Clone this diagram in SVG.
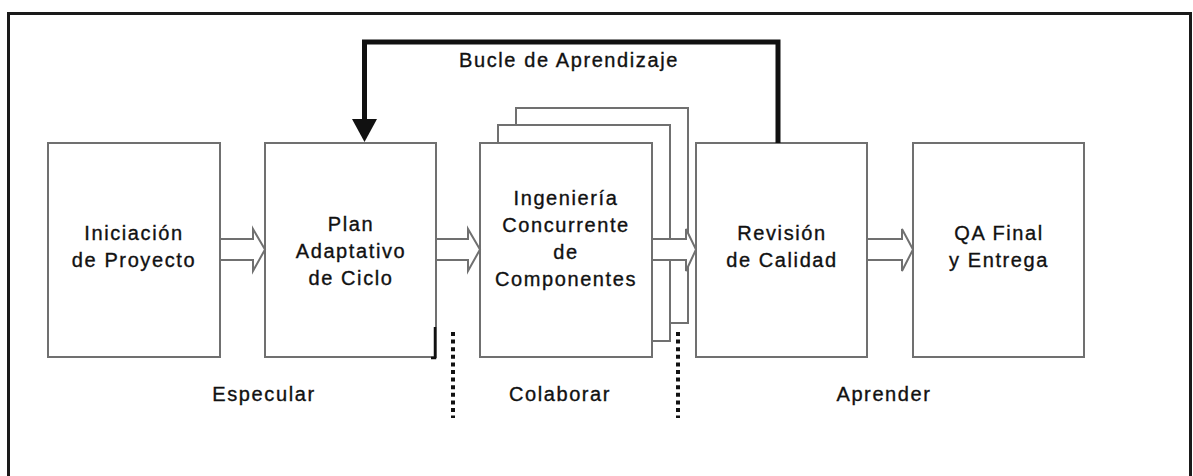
<svg xmlns="http://www.w3.org/2000/svg" width="1193" height="476" viewBox="0 0 1193 476">
<style>
.frame{fill:none;stroke:#1a1a1a;stroke-width:3}
.box{fill:#fff;stroke:#707070;stroke-width:2}
.t{font-family:"Liberation Sans",Arial,sans-serif;font-size:20px;letter-spacing:1.6px;fill:#111;stroke:#111;stroke-width:0.35px;text-anchor:middle}
.harrow{fill:#fff;stroke:#707070;stroke-width:2;stroke-linejoin:miter}
.fb{fill:none;stroke:#111;stroke-width:5}
.dots{stroke:#111;stroke-width:4;stroke-dasharray:4 3.6}
</style>
<rect width="1193" height="476" fill="#fff"/>
<path class="frame" d="M8.5 480 V13.5 H1190.5 V480"/>

<g id="n1">
<rect class="box" x="48" y="143" width="172" height="214"/>
<text class="t" x="134" y="240">Iniciación</text>
<text class="t" x="134" y="267">de Proyecto</text>
</g>

<g id="n2">
<rect class="box" x="265" y="143" width="171" height="214"/>
<path d="M435 327 V358 H431" fill="none" stroke="#111" stroke-width="2.5"/>
<text class="t" x="351" y="231">Plan</text>
<text class="t" x="351" y="258">Adaptativo</text>
<text class="t" x="351" y="285">de Ciclo</text>
</g>

<g id="n3">
<rect class="box" x="516" y="108" width="172" height="215"/>
<rect class="box" x="498" y="125" width="172" height="216"/>
<rect class="box" x="480" y="143" width="172" height="214"/>
<text class="t" x="566" y="205">Ingeniería</text>
<text class="t" x="566" y="232">Concurrente</text>
<text class="t" x="566" y="259">de</text>
<text class="t" x="566" y="286">Componentes</text>
</g>

<g id="n4">
<rect class="box" x="696" y="143" width="171" height="214"/>
<text class="t" x="782" y="240">Revisión</text>
<text class="t" x="782" y="267">de Calidad</text>
</g>

<g id="n5">
<rect class="box" x="913" y="143" width="171" height="214"/>
<text class="t" x="999" y="240">QA Final</text>
<text class="t" x="999" y="267">y Entrega</text>
</g>

<g id="connectors">
<path class="harrow" d="M221 239 H253 V229 L265 249.5 L253 271 V260 H221"/>
<path class="harrow" d="M437 239 H468 V229 L480 249.5 L468 271 V260 H437"/>
<path class="harrow" d="M653 239 H686 V229 L696 249.5 L686 271 V260 H653"/>
<path class="harrow" d="M868 239 H902 V229 L913 249.5 L902 271 V260 H868"/>
<path class="fb" d="M778 143 V42 H364.5 V120"/>
<polygon points="352,119 377,119 364.5,142" fill="#111"/>
<line class="dots" x1="453" y1="332" x2="453" y2="418"/>
<line class="dots" x1="678" y1="332" x2="678" y2="418"/>
</g>

<text class="t" x="569" y="67">Bucle de Aprendizaje</text>
<text class="t" x="264" y="401">Especular</text>
<text class="t" x="560" y="401">Colaborar</text>
<text class="t" x="884" y="401">Aprender</text>
</svg>
